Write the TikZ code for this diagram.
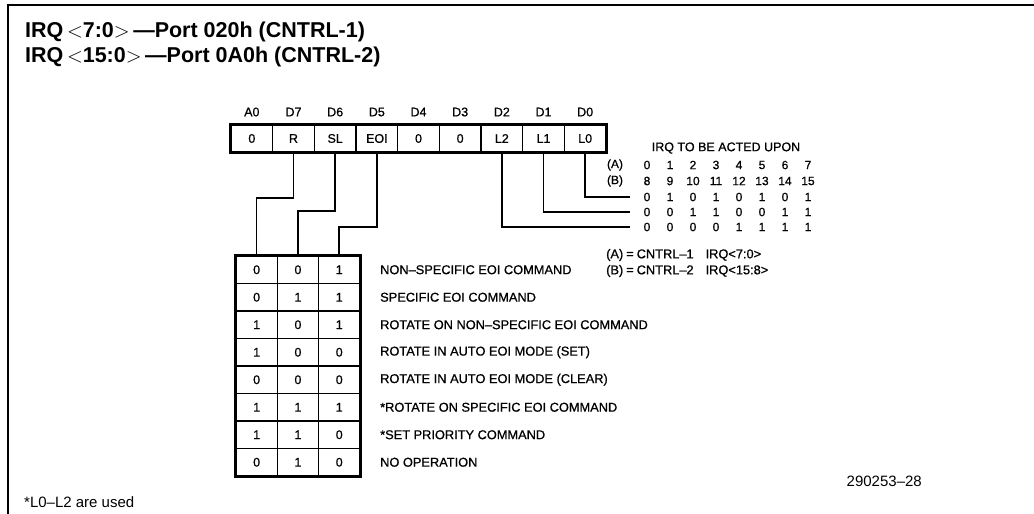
\documentclass[tikz,border=0pt]{standalone}
\usepackage{fontspec}
\setmainfont{Liberation Sans}
\newfontfamily\demi{Liberation Sans}[FakeBold=0.8]
\begin{document}
\begin{tikzpicture}[x=1pt,y=-1pt,
  frame/.style={line width=1.5pt},
  cell/.style={draw,line width=1.4pt,minimum width=41.67pt,minimum height=27pt,inner sep=0pt,font=\demi\fontsize{12.5}{14}\selectfont},
  tcell/.style={draw,line width=1.4pt,minimum width=41.3pt,minimum height=27.5pt,inner sep=0pt,font=\demi\fontsize{12.5}{14}\selectfont},
  lbl/.style={inner sep=0pt,font=\demi\fontsize{12.5}{14}\selectfont},
  desc/.style={anchor=west,inner sep=0pt,font=\demi\fontsize{12.8}{14}\selectfont},
  val/.style={inner sep=0pt,font=\demi\fontsize{12}{14}\selectfont},
  title/.style={anchor=west,inner sep=0pt,font=\fontsize{21.5}{25}\selectfont\bfseries},
  note/.style={anchor=west,inner sep=0pt,font=\demi\fontsize{12.8}{14}\selectfont},
  foot/.style={inner sep=0pt,font=\fontsize{15}{17}\selectfont},
  wire/.style={line width=1.6pt}]
\useasboundingbox (0,0) rectangle (1034,514);
\draw[frame] (8,514) -- (8,5) -- (1034,5);
\node[title] (t1) at (25,32) {IRQ\,$<$7:0$>$\,—Port 020h (CNTRL-1)};
\node[title] (t2) at (25,57) {IRQ\,$<$15:0$>$\,—Port 0A0h (CNTRL-2)};
% register
\foreach \i/\v/\h in {0/0/A0,1/R/D7,2/SL/D6,3/EOI/D5,4/0/D4,5/0/D3,6/L2/D2,7/L1/D1,8/L0/D0}{
  \node[cell] (c\i) at ({231+41.67*(\i+0.5)},138.5) {\v};
  \node[lbl] (h\i) at ({231+41.67*(\i+0.5)},112) {\h};
}
\draw[line width=2.6pt] (c0.north west) rectangle (c8.south east);
% command table
\foreach \r/\a/\b/\c/\d [count=\n from 0] in {
  1/0/0/1/NON–SPECIFIC EOI COMMAND,
  2/0/1/1/SPECIFIC EOI COMMAND,
  3/1/0/1/ROTATE ON NON–SPECIFIC EOI COMMAND,
  4/1/0/0/ROTATE IN AUTO EOI MODE (SET),
  5/0/0/0/ROTATE IN AUTO EOI MODE (CLEAR),
  6/1/1/1/*ROTATE ON SPECIFIC EOI COMMAND,
  7/1/1/0/*SET PRIORITY COMMAND,
  8/0/1/0/NO OPERATION}{
  \node[tcell] (t-\r-1) at (256.65,{256+27.5*(\n+0.5)}) {\a};
  \node[tcell] (t-\r-2) at (297.95,{256+27.5*(\n+0.5)}) {\b};
  \node[tcell] (t-\r-3) at (339.25,{256+27.5*(\n+0.5)}) {\c};
  \node[desc] (d-\r) at (380,{256+27.5*(\n+0.5)}) {\d};
}
\draw[line width=2.6pt] (t-1-1.north west) rectangle (t-8-3.south east);
% connectors to command table
\draw[wire] (c1.south) -- ++(0,45.5) -| (t-1-1.north);
\draw[wire] (c2.south) -- ++(0,58.5) -| (t-1-2.north);
\draw[wire] (c3.south) -- ++(0,74.5) -| (t-1-3.north);
% IRQ level table
\node[lbl] (irqh) at (726,148) {IRQ TO BE ACTED UPON};
\node[val] (la) at (615,165) {(A)};
\node[val] (lb) at (615,181) {(B)};
\foreach \a/\b [count=\k from 0] in {0/8,1/9,2/10,3/11,4/12,5/13,6/14,7/15}{
  \node[val] (a\k) at ({647+23*\k},165) {\a};
  \node[val] (b\k) at ({647+23*\k},181) {\b};
}
\foreach \v [count=\k from 0] in {0,1,0,1,0,1,0,1}{\node[val] (r1-\k) at ({647+23*\k},197) {\v};}
\foreach \v [count=\k from 0] in {0,0,1,1,0,0,1,1}{\node[val] (r2-\k) at ({647+23*\k},212) {\v};}
\foreach \v [count=\k from 0] in {0,0,0,0,1,1,1,1}{\node[val] (r3-\k) at ({647+23*\k},227) {\v};}
\coordinate (e1) at (630,197);
\coordinate (e2) at (630,212);
\coordinate (e3) at (630,227);
\draw[wire] (c8.south) |- (e1);
\draw[wire] (c7.south) |- (e2);
\draw[wire] (c6.south) |- (e3);
\node[note] (lega) at (606,255) {(A)\hspace{3pt}=\hspace{3pt}CNTRL–1\hspace{12pt}IRQ<7:0>};
\node[note] (legb) at (606,271) {(B)\hspace{3pt}=\hspace{3pt}CNTRL–2\hspace{12pt}IRQ<15:8>};
\node[foot,anchor=east] (fig) at (922,481) {290253–28};
\node[foot,anchor=west] (fn) at (24,502) {*L0–L2 are used};
\end{tikzpicture}
\end{document}
